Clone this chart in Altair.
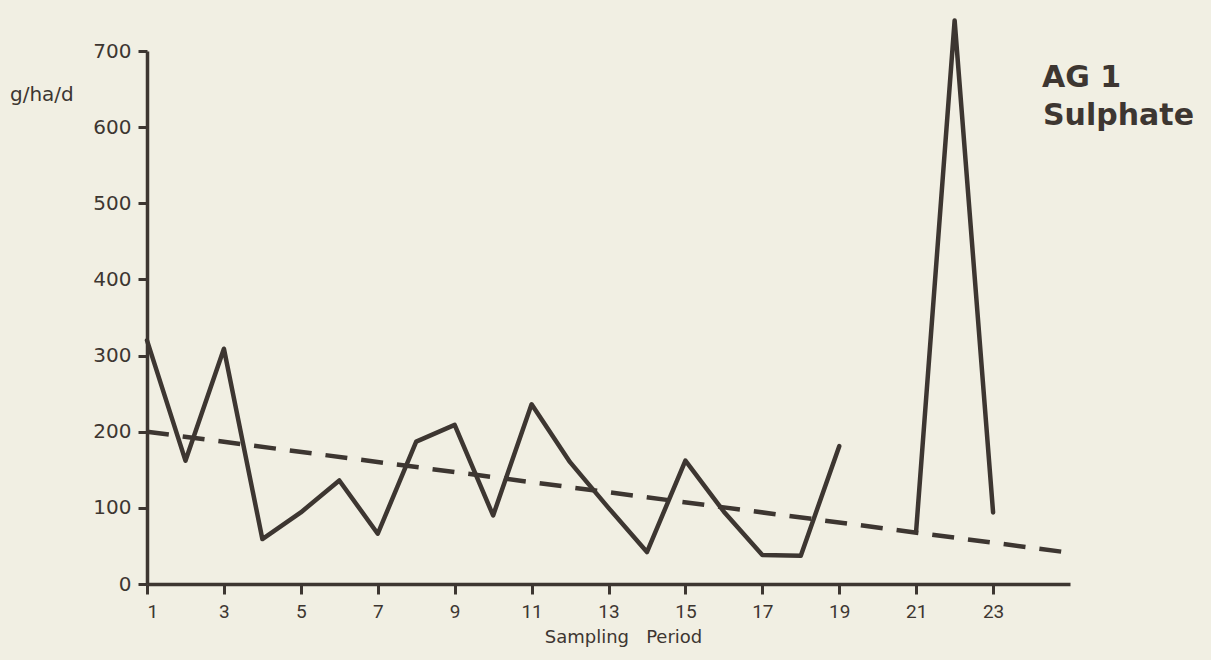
import altair as alt
import pandas as pd

# Sulphate deposition at site AG 1 (g/ha/d) per sampling period; period 20 missing
periods = [1, 2, 3, 4, 5, 6, 7, 8, 9, 10, 11, 12, 13, 14, 15, 16, 17, 18, 19, 21, 22, 23]
sulphate = [320, 162, 309, 59, 94, 136, 66, 187, 209, 90, 236, 160, 100, 42, 162, 95, 38, 37, 181, 70, 740, 94]
segments = ["a"] * 19 + ["b"] * 3

# Linear trend drawn across the whole period axis
trend_periods = [1, 25]
trend_values = [200, 41]

x_ticks = [1, 3, 5, 7, 9, 11, 13, 15, 17, 19, 21, 23]
y_ticks = [0, 100, 200, 300, 400, 500, 600, 700]

title_lines = ["AG 1", "Sulphate"]
unit_label = ["g/ha/d"]

INK = "#3d3631"
PAPER = "#f1efe3"

series = pd.DataFrame({"period": periods, "value": sulphate, "seg": segments})
trend = pd.DataFrame({"period": trend_periods, "value": trend_values})

x_scale = alt.Scale(domain=[1, 25], nice=False, zero=False)
y_scale = alt.Scale(domain=[0, 700], nice=False)

x_enc = alt.X(
    "period:Q",
    scale=x_scale,
    axis=alt.Axis(
        values=x_ticks,
        title="Sampling \u00a0\u00a0Period",
        titleX=476,
        titleY=58,
        titleAlign="center",
        titleBaseline="alphabetic",
        titleFont="DejaVu Sans",
        titleFontSize=18,
        titleFontWeight="normal",
        titleColor=INK,
        labelFont="Roboto",
        labelFontSize=19,
        labelColor=INK,
        labelPadding=8,
        tickSize=10,
        tickWidth=3,
        tickColor=INK,
        domainWidth=3.5,
        domainColor=INK,
        grid=False,
    ),
)

y_enc = alt.Y(
    "value:Q",
    scale=y_scale,
    axis=alt.Axis(
        values=y_ticks,
        title=None,
        labelFont="DejaVu Sans",
        labelFontSize=20,
        labelColor=INK,
        labelPadding=7,
        tickSize=9,
        tickWidth=3,
        tickColor=INK,
        domainWidth=3.5,
        domainColor=INK,
        grid=False,
    ),
)

line = alt.Chart(series).mark_line(
    color=INK, strokeWidth=4.5, strokeJoin="round", strokeCap="round", clip=False
).encode(x=x_enc, y=y_enc, detail="seg:N")

trend_line = alt.Chart(trend).mark_line(
    color=INK, strokeWidth=4.5, strokeDash=[22, 14]
).encode(x=alt.X("period:Q", scale=x_scale), y=alt.Y("value:Q", scale=y_scale))

title_df = pd.DataFrame({"t": title_lines, "row": [0, 1]})
title_text = alt.Chart(title_df).mark_text(
    font="DejaVu Sans", fontWeight="bold", fontSize=30, color=INK,
    align="left", baseline="alphabetic"
).encode(
    text="t:N",
    x=alt.value(895),
    y=alt.value(36),
).transform_filter(alt.datum.row == 0)

sub_text = alt.Chart(title_df).mark_text(
    font="DejaVu Sans", fontWeight="bold", fontSize=30, color=INK,
    align="left", baseline="alphabetic"
).encode(
    text="t:N",
    x=alt.value(896),
    y=alt.value(74),
).transform_filter(alt.datum.row == 1)

unit_text = alt.Chart(pd.DataFrame({"t": unit_label})).mark_text(
    font="DejaVu Sans", fontSize=20, color=INK, align="left", baseline="alphabetic"
).encode(text="t:N", x=alt.value(-137), y=alt.value(50))

chart = alt.layer(trend_line, line, title_text, sub_text, unit_text).properties(
    width=923,
    height=533,
    autosize=alt.AutoSizeParams(type="none"),
    padding={"left": 147, "top": 51, "right": 141, "bottom": 76},
    background=PAPER,
).configure_view(stroke=None)

chart.save("out.html", embed_options={"renderer": "svg", "actions": False})
